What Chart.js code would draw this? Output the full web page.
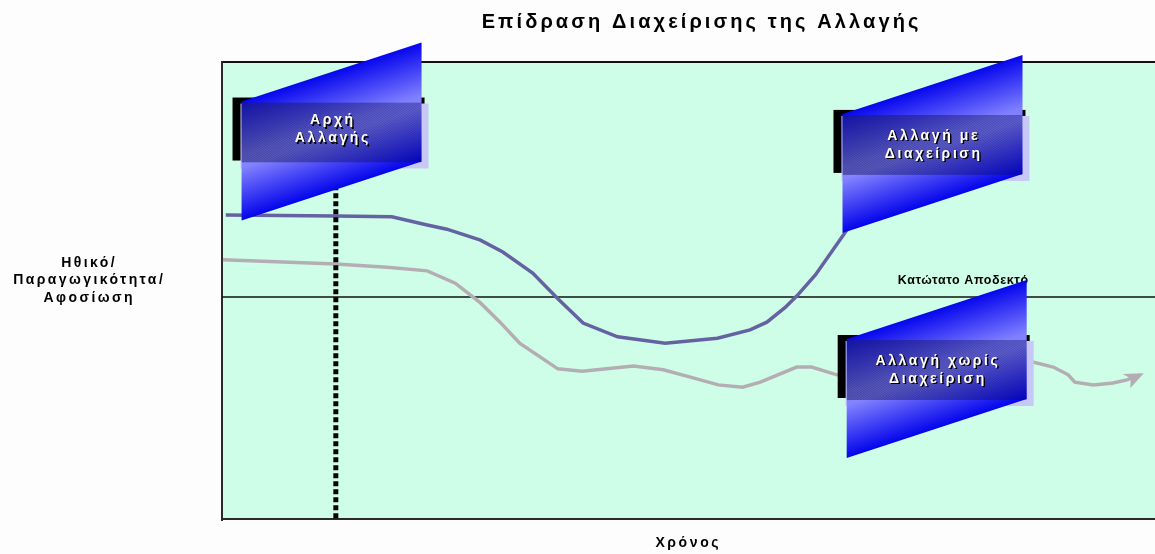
<!DOCTYPE html>
<html><head><meta charset="utf-8">
<script src="https://cdn.jsdelivr.net/npm/chart.js@4/dist/chart.umd.min.js"></script>
<style>html,body{margin:0;padding:0;background:#fdfdfd;overflow:hidden}#wrap{width:1155px;height:554px;position:relative}</style>
</head><body><div id="wrap"><canvas id="c" width="1155" height="554"></canvas></div>
<script>
// ---- data (time 0..100, level 0..100) ----
const managedTime  = [0.4, 12.2, 18.2, 22.0, 24.1, 27.7, 30.1, 33.3, 36.0, 38.7, 42.4, 47.5, 53.1, 56.6, 58.4, 60.3, 61.6, 63.6, 66.6, 68.4];
const managedLevel = [66.6, 66.4, 66.2, 64.4, 63.5, 61.1, 58.5, 53.9, 48.3, 43.0, 40.0, 38.6, 39.7, 41.5, 43.2, 46.3, 48.9, 53.5, 62.2, 67.7];
const unmanagedTime  = [0.1, 12.2, 17.7, 22.0, 25.0, 27.7, 29.8, 31.9, 36.0, 38.6, 44.1, 47.3, 50.2, 53.2, 55.8, 57.7, 61.6, 63.2, 65.9, 86.9, 89.1, 90.7, 91.4, 93.4, 95.5, 97.0, 98.4];
const unmanagedLevel = [56.8, 55.9, 55.2, 54.4, 51.7, 47.4, 43.2, 38.6, 33.0, 32.5, 33.6, 32.8, 31.2, 29.5, 29.0, 30.1, 33.4, 33.4, 31.7, 34.5, 33.4, 31.7, 30.1, 29.5, 29.9, 30.6, 31.7];
const thresholdLevel = 48.7;
const changeStartTime = 12.2;
const changeStartRange = [0.4, 77];
const titleText = 'Επίδραση Διαχείρισης της Αλλαγής';
const yAxisLines = ['Ηθικό/', 'Παραγωγικότητα/', 'Αφοσίωση'];
const xAxisText = 'Χρόνος';
const thresholdText = 'Κατώτατο Αποδεκτό';
const calloutLines = [['Αρχή', 'Αλλαγής'], ['Αλλαγή με', 'Διαχείριση'], ['Αλλαγή χωρίς', 'Διαχείριση']];
const calloutTime  = [11.74, 76.15, 76.6];
const calloutLevel = [84.6, 81.9, 32.75];

const toXY = (xs, ys) => xs.map((x, i) => ({x, y: ys[i]}));
const FONT = '"Liberation Sans", Arial, sans-serif';

function spacedText(ctx, txt, x, y, font, spacing, color, align) {
  ctx.save();
  ctx.font = font;
  ctx.letterSpacing = spacing + 'px';
  ctx.textAlign = align || 'center';
  ctx.textBaseline = 'middle';
  ctx.fillStyle = color;
  ctx.fillText(txt, x + (align === 'left' ? 0 : spacing / 2), y);
  ctx.restore();
}

function drawCallout(ctx, cx, cy, lines, textDy) {
  const w = 180, h = 60, skew = 59;
  const x0 = cx - w / 2, x1 = cx + w / 2, y0 = cy - h / 2, y1 = cy + h / 2;
  ctx.save();
  ctx.fillStyle = '#000';
  ctx.fillRect(x0 - 9, y0 - 5, w + 12, h + 3);
  ctx.fillStyle = '#c8c8f6';
  ctx.fillRect(x0 - 1, y0 + 1, w + 8, h + 5);
  // slanted panel
  ctx.save();
  const k = -skew / w;
  ctx.transform(1, k, 0, 1, 0, -k * x0);
  const g = ctx.createLinearGradient(0, y0 - 1, 0, y1 + 58);
  g.addColorStop(0, '#0606ee');
  g.addColorStop(0.45, '#8080ff');
  g.addColorStop(0.55, '#8484ff');
  g.addColorStop(1, '#0404ec');
  ctx.fillStyle = g;
  ctx.fillRect(x0, y0 - 1, w, h + skew);
  ctx.restore();
  // hatched band
  ctx.save();
  ctx.beginPath();
  ctx.rect(x0, y0, w, h);
  ctx.clip();
  const bg = ctx.createLinearGradient(x0, y0, x1, y1);
  bg.addColorStop(0, 'rgba(40,40,110,0.45)');
  bg.addColorStop(1, 'rgba(10,10,120,0.25)');
  ctx.fillStyle = bg;
  ctx.fillRect(x0, y0, w, h);
  ctx.strokeStyle = 'rgba(0,0,50,0.22)';
  ctx.lineWidth = 1;
  for (let s = -200; s < w + 200; s += 3) {
    ctx.beginPath();
    ctx.moveTo(x0 + s, y1);
    ctx.lineTo(x0 + s + 120, y0 - 10);
    ctx.stroke();
  }
  ctx.restore();
  // text
  const f = 'bold 14px ' + FONT;
  const ty = cy + textDy - (lines.length - 1) * 9;
  lines.forEach((ln, i) => {
    spacedText(ctx, ln, cx + 1.5, ty + i * 18 + 1.5, f, 2.6, '#000');
    spacedText(ctx, ln, cx, ty + i * 18, f, 2.6, '#fff');
  });
  ctx.restore();
}

const deco = {
  id: 'deco',
  beforeDraw(chart) {
    const {ctx, chartArea: a} = chart;
    ctx.save();
    ctx.fillStyle = '#cffee8';
    ctx.fillRect(a.left, a.top, a.right - a.left, a.bottom - a.top);
    ctx.fillStyle = '#111';
    ctx.fillRect(a.left, a.top - 1, a.right - a.left, 2);
    ctx.fillStyle = '#2a2a2a';
    ctx.fillRect(a.left - 1, a.top - 1, 2, a.bottom - a.top + 2);
    ctx.fillRect(a.left - 1, a.bottom - 2, a.right - a.left + 1, 2);
    ctx.restore();
    spacedText(ctx, titleText, 700, 22, 'bold 20px ' + FONT, 3.1, '#000');
    const lf = 'bold 14px ' + FONT;
    yAxisLines.forEach((t, i) => spacedText(ctx, t, 88, 263 + i * 17.5, lf, 2.4, '#000'));
    spacedText(ctx, xAxisText, 687, 543, lf, 2.6, '#000');
    const ys = chart.scales.y;
    spacedText(ctx, thresholdText, 963, ys.getPixelForValue(thresholdLevel) - 16, 'bold 12.5px ' + FONT, 0.6, '#000');
  },
  afterDatasetsDraw(chart) {
    const {ctx} = chart;
    const xs = chart.scales.x, ys = chart.scales.y;
    // arrow head on the unmanaged line
    const pts = chart.getDatasetMeta(1).data;
    const p1 = pts[pts.length - 2], p2 = pts[pts.length - 1];
    const ang = Math.atan2(p2.y - p1.y, p2.x - p1.x);
    const tip = {x: p2.x + 4 * Math.cos(ang), y: p2.y + 4 * Math.sin(ang)};
    ctx.save();
    ctx.fillStyle = '#b4aeb4';
    ctx.translate(tip.x, tip.y);
    ctx.rotate(ang);
    ctx.beginPath();
    ctx.moveTo(0, 0);
    ctx.lineTo(-20, -7);
    ctx.lineTo(-14, 0);
    ctx.lineTo(-18, 9);
    ctx.closePath();
    ctx.fill();
    ctx.restore();
    calloutLines.forEach((lines, i) => {
      drawCallout(ctx, xs.getPixelForValue(calloutTime[i]), ys.getPixelForValue(calloutLevel[i]), lines, i === 0 ? -3 : 0);
    });
  }
};

new Chart(document.getElementById('c'), {
  type: 'line',
  data: {
    datasets: [
      {data: toXY(managedTime, managedLevel), borderColor: '#6462a2', borderWidth: 3.5, pointRadius: 0, tension: 0, order: 1},
      {data: toXY(unmanagedTime, unmanagedLevel), borderColor: '#b4aeb4', borderWidth: 3.5, pointRadius: 0, tension: 0, order: 2},
      {data: [{x: 0, y: thresholdLevel}, {x: 100, y: thresholdLevel}], borderColor: '#111', borderWidth: 1.5, pointRadius: 0, order: 3},
      {data: [{x: changeStartTime, y: changeStartRange[0]}, {x: changeStartTime, y: changeStartRange[1]}], borderColor: '#000', borderWidth: 5, borderDash: [5, 3], borderCapStyle: 'butt', pointRadius: 0, order: 0}
    ]
  },
  options: {
    responsive: false,
    animation: false,
    devicePixelRatio: 1,
    layout: {padding: {left: 222, top: 62, right: 0, bottom: 34}},
    scales: {
      x: {type: 'linear', min: 0, max: 100, display: false},
      y: {type: 'linear', min: 0, max: 100, display: false}
    },
    plugins: {legend: {display: false}, tooltip: {enabled: false}, title: {display: false}}
  },
  plugins: [deco]
});
</script>
</body></html>
